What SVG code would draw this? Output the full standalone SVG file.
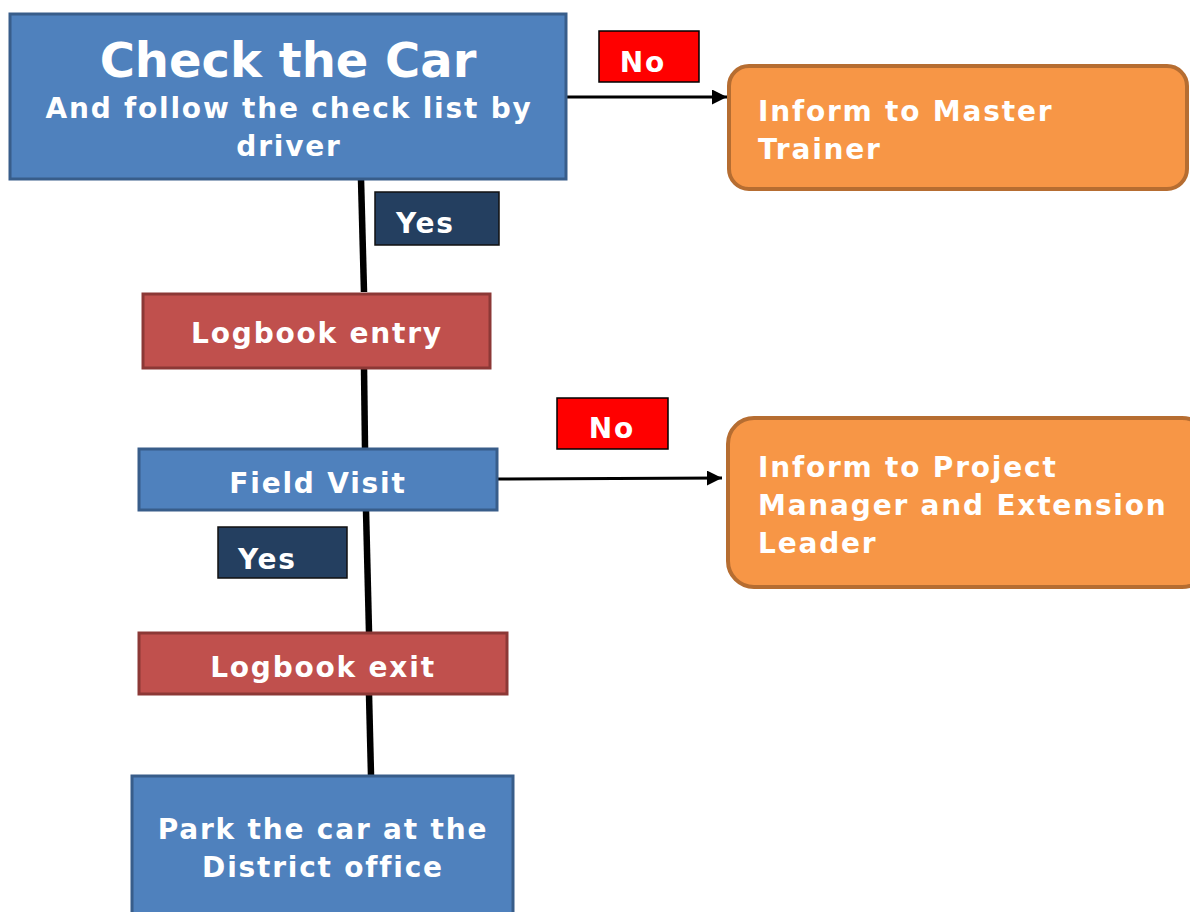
<svg xmlns="http://www.w3.org/2000/svg" width="1190" height="912" viewBox="0 0 1190 912">
  <defs>
    <marker id="arrow" viewBox="0 0 10 10" refX="10" refY="5" markerWidth="5" markerHeight="5" orient="auto" markerUnits="strokeWidth">
      <path d="M0,0 L10,5 L0,10 Z" fill="#000"/>
    </marker>
    <style>
      text { font-family: "DejaVu Sans", Verdana, sans-serif; font-weight: bold; fill: #fff; }
      .blue { fill: #4F81BD; stroke: #385D8A; stroke-width: 3; }
      .red { fill: #C0504D; stroke: #8C3836; stroke-width: 3; }
      .orange { fill: #F79646; stroke: #B66D31; stroke-width: 4; }
      .no { fill: #FF0000; stroke: #000; stroke-width: 1.5; }
      .yes { fill: #243F60; stroke: #111; stroke-width: 1.5; }
      .trunk { stroke: #000; stroke-width: 6.5; fill: none; }
      .branch { stroke: #000; stroke-width: 3; fill: none; marker-end: url(#arrow); }
      .t28 { font-size: 28px; letter-spacing: 1.8px; }
      .mid { text-anchor: middle; }
    </style>
  </defs>

  <!-- connectors -->
  <g id="connectors">
    <path class="trunk" d="M361,179 L364,292"/>
    <path class="trunk" d="M364,368 L365,448"/>
    <path class="trunk" d="M366,510 L369,632"/>
    <path class="trunk" d="M369,694 L371,775"/>
    <path class="branch" d="M566,97 L727,97"/>
    <path class="branch" d="M497,479 L722,478"/>
  </g>

  <g id="check-car">
    <rect class="blue" x="10" y="14" width="556" height="165"/>
    <text class="mid" x="288" y="77" font-size="48">Check the Car</text>
    <text class="mid t28" x="289" y="118">And follow the check list by</text>
    <text class="mid t28" x="289" y="156">driver</text>
  </g>

  <g id="no-1">
    <rect class="no" x="599" y="31" width="100" height="51"/>
    <text class="mid t28" x="643" y="72">No</text>
  </g>

  <g id="inform-master-trainer">
    <rect class="orange" x="729" y="66" width="458" height="123" rx="20"/>
    <text class="t28" x="758" y="121">Inform to Master</text>
    <text class="t28" x="758" y="159">Trainer</text>
  </g>

  <g id="yes-1">
    <rect class="yes" x="375" y="192" width="124" height="53"/>
    <text class="t28" x="396" y="233">Yes</text>
  </g>

  <g id="logbook-entry">
    <rect class="red" x="143" y="294" width="347" height="74"/>
    <text class="mid t28" x="317" y="343">Logbook entry</text>
  </g>

  <g id="no-2">
    <rect class="no" x="557" y="398" width="111" height="51"/>
    <text class="mid t28" x="612" y="438">No</text>
  </g>

  <g id="field-visit">
    <rect class="blue" x="139" y="449" width="358" height="61"/>
    <text class="mid t28" x="318" y="493">Field Visit</text>
  </g>

  <g id="inform-project-manager">
    <rect class="orange" x="728" y="418" width="480" height="169" rx="26"/>
    <text class="t28" x="758" y="477">Inform to Project</text>
    <text class="t28" x="758" y="515">Manager and Extension</text>
    <text class="t28" x="758" y="553">Leader</text>
  </g>

  <g id="yes-2">
    <rect class="yes" x="218" y="527" width="129" height="51"/>
    <text class="t28" x="238" y="569">Yes</text>
  </g>

  <g id="logbook-exit">
    <rect class="red" x="139" y="633" width="368" height="61"/>
    <text class="mid t28" x="323" y="677">Logbook exit</text>
  </g>

  <g id="park-car">
    <rect class="blue" x="132" y="776" width="381" height="150"/>
    <text class="mid t28" x="323" y="839">Park the car at the</text>
    <text class="mid t28" x="323" y="877">District office</text>
  </g>
</svg>
